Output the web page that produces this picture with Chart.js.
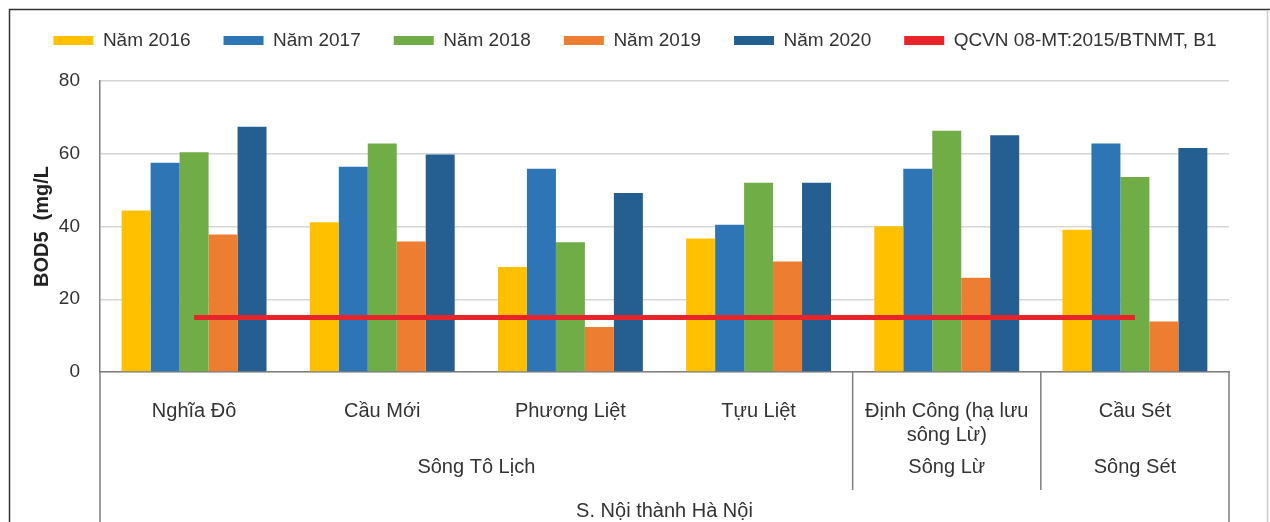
<!DOCTYPE html>
<html>
<head>
<meta charset="utf-8">
<script src="https://cdn.jsdelivr.net/npm/chart.js@4.4.0/dist/chart.umd.min.js"></script>
<style>
    body { margin: 0; background: #fff; }
    #wrap { width: 1270px; height: 522px; }
</style>
</head>
<body>
<div id="wrap"><canvas id="myChart"></canvas></div>
<script>
// monitoring points, the river each one is on, and the whole area
const stations = ['Nghĩa Đô', 'Cầu Mới', 'Phương Liệt', 'Tựu Liệt', ['Định Công (hạ lưu', 'sông Lừ)'], 'Cầu Sét'];
const rivers = ['Sông Tô Lịch', 'Sông Tô Lịch', 'Sông Tô Lịch', 'Sông Tô Lịch', 'Sông Lừ', 'Sông Sét'];
const area = 'S. Nội thành Hà Nội';

// BOD5 values (mg/L) per year
const years = ['Năm 2016', 'Năm 2017', 'Năm 2018', 'Năm 2019', 'Năm 2020'];
const bod2016 = [44.4, 41.2, 28.9, 36.7, 40.1, 39.1];
const bod2017 = [57.5, 56.4, 55.9, 40.5, 55.9, 62.8];
const bod2018 = [60.4, 62.8, 35.7, 52.0, 66.3, 53.6];
const bod2019 = [37.8, 35.9, 12.4, 30.4, 25.9, 13.9];
const bod2020 = [67.4, 59.8, 49.2, 52.0, 65.1, 61.6];

// limit line
const limitLabel = 'QCVN 08-MT:2015/BTNMT, B1';
const limitB1 = [15, 15, 15, 15, 15, 15];

const yTicks = [0, 20, 40, 60, 80];

const yearColors = ['#ffc000', '#2e75b6', '#70ad47', '#ed7d31', '#255e91'];
const FONT = '"Liberation Sans", Arial, sans-serif';

Chart.defaults.font.family = FONT;
Chart.defaults.color = '#333';

// draws the frame, the river / area labels and the separators below the x axis
const groupAxis = {
    id: 'groupAxis',
    afterDraw(chart) {
        const ctx = chart.ctx;
        const x = chart.scales.x;
        const ca = chart.chartArea;
        const half = (x.getPixelForValue(1) - x.getPixelForValue(0)) / 2;

        ctx.save();
        // outer frame
        ctx.strokeStyle = '#333';
        ctx.lineWidth = 1.5;
        ctx.beginPath();
        ctx.moveTo(9.5, 522);
        ctx.lineTo(9.5, 9.5);
        ctx.lineTo(1270, 9.5);
        ctx.stroke();
        ctx.strokeStyle = '#ccc';
        ctx.beginPath();
        ctx.moveTo(1267.5, 10);
        ctx.lineTo(1267.5, 522);
        ctx.stroke();

        // left and right edges below the axis
        ctx.strokeStyle = '#7f7f7f';
        ctx.beginPath();
        ctx.moveTo(ca.left, ca.bottom);
        ctx.lineTo(ca.left, 522);
        ctx.moveTo(ca.right, ca.bottom);
        ctx.lineTo(ca.right, 522);
        ctx.stroke();

        // group the stations by river
        const groups = [];
        rivers.forEach((r, i) => {
            const last = groups[groups.length - 1];
            if (last && last.name === r) last.end = i;
            else groups.push({ name: r, start: i, end: i });
        });

        ctx.font = '20px ' + FONT;
        ctx.fillStyle = '#333';
        ctx.textAlign = 'center';
        ctx.textBaseline = 'middle';
        groups.forEach((g, i) => {
            const l = x.getPixelForValue(g.start) - half;
            const r = x.getPixelForValue(g.end) + half;
            ctx.fillText(g.name, (l + r) / 2, 467);
            if (i > 0) {
                ctx.beginPath();
                ctx.moveTo(l, ca.bottom);
                ctx.lineTo(l, 490);
                ctx.stroke();
            }
        });
        ctx.fillText(area, (ca.left + ca.right) / 2, 511);
        ctx.restore();
    }
};

const barSets = [bod2016, bod2017, bod2018, bod2019, bod2020].map((d, i) => ({
    label: years[i],
    data: d,
    backgroundColor: yearColors[i],
    borderWidth: 0,
    categoryPercentage: 0.77,
    barPercentage: 1.0,
    order: 1
}));

const ctx = document.getElementById('myChart').getContext('2d');
const myChart = new Chart(ctx, {
    type: 'bar',
    data: {
        labels: stations,
        datasets: [
            ...barSets,
            {
                type: 'line',
                label: limitLabel,
                data: limitB1,
                borderColor: '#e8242b',
                backgroundColor: '#e8242b',
                borderWidth: 5,
                pointRadius: 0,
                order: 0
            }
        ]
    },
    plugins: [groupAxis],
    options: {
        responsive: true,
        maintainAspectRatio: false,
        animation: false,
        layout: { padding: { top: -2, left: 0, right: 0, bottom: 0 } },
        plugins: {
            tooltip: { enabled: false },
            legend: {
                position: 'top',
                labels: {
                    boxWidth: 40,
                    boxHeight: 9,
                    padding: 33,
                    color: '#333',
                    font: { size: 19 },
                    sort: (a, b) => a.datasetIndex - b.datasetIndex,
                    generateLabels: chart => Chart.defaults.plugins.legend.labels.generateLabels(chart)
                        .map(l => ({ ...l, lineWidth: 0 }))
                }
            },
            // empty spacer between the legend and the plot
            subtitle: {
                display: true,
                text: '',
                weight: 0,
                font: { size: 10, lineHeight: 1 },
                padding: { top: 11, bottom: 0 }
            }
        },
        scales: {
            x: {
                grid: { display: false },
                border: { display: true, color: '#7f7f7f', width: 1.5 },
                ticks: {
                    padding: 19,
                    color: '#333',
                    font: { size: 20, lineHeight: 1.2 },
                    maxRotation: 0,
                    autoSkip: false
                },
                afterFit: s => { s.height = 150; }
            },
            y: {
                min: 0,
                max: 80,
                afterBuildTicks: s => { s.ticks = yTicks.map(v => ({ value: v })); },
                grid: { color: '#d6d6d6', lineWidth: 1.5, drawTicks: false },
                border: { display: true, color: '#7f7f7f', width: 1.5 },
                ticks: { padding: 20, color: '#333', font: { size: 19 } },
                title: {
                    display: true,
                    text: 'BOD5  (mg/L',
                    color: '#222',
                    font: { size: 20, weight: 'bold' },
                    padding: { top: 30, bottom: 0 }
                },
                afterFit: s => { s.width = 100; }
            },
            // empty strip on the right of the plot
            yRight: {
                position: 'right',
                display: true,
                grid: { display: false },
                border: { display: false },
                ticks: { display: false },
                afterFit: s => { s.width = 41; }
            }
        }
    }
});
</script>
</body>
</html>
